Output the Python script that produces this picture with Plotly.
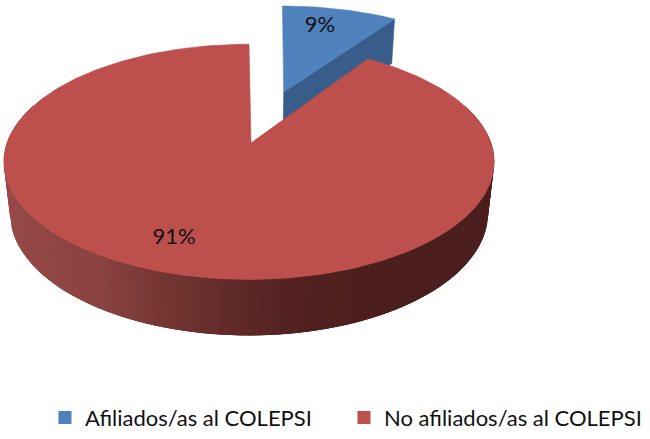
# -*- coding: utf-8 -*-
import numpy as np
import plotly.graph_objects as go

categories = ["Afiliados/as al COLEPSI", "No afiliados/as al COLEPSI"]
values = [9.4, 90.6]
explode = [0.5, 0.0]
top_colors = ["#4f81bd", "#bd4f4c"]
wall_colors = ["#385d8a", "#8a3a37"]

# plotly has no 3D pie, so project the slices by hand (pixel scale on the axes)
CX, CY = 251, 146
A, B = 242, 117       # radius on screen
P = 0.16              # perspective of the disc
Q = 0.025             # bottom plane sits a little further away
D = 53                # thickness


def project(u, v, low=False, dx=0):
    w = 1 + P * v + (Q if low else 0)
    y = -B * v + (D if low else 0)
    return CX + dx + A * u / w, CY + y / w


def blend(x):
    # shading of the red rim, from left to right
    xs = [10, 100, 170, 240, 300, 400, 490]
    r = [151, 138, 116, 95, 82, 74, 76]
    g = [74, 67, 54, 42, 33, 31, 31]
    b = [71, 64, 51, 40, 32, 29, 30]
    return "rgb(%d,%d,%d)" % (np.interp(x, xs, r), np.interp(x, xs, g), np.interp(x, xs, b))


angles = np.cumsum([0] + values) / sum(values) * 2 * np.pi
fig = go.Figure()


def poly(xs, ys, color, width=0.6):
    fig.add_trace(go.Scatter(x=xs, y=ys, mode="lines", fill="toself", fillcolor=color,
                             line=dict(color=color, width=width), hoverinfo="skip", showlegend=False))


# blue slice, pulled out along its middle angle
mid = (angles[0] + angles[1]) / 2
u0, v0 = explode[0] * np.sin(mid), explode[0] * np.cos(mid)
t = np.linspace(angles[0], angles[1], 40)
u1, v1 = u0 + np.sin(angles[1]), v0 + np.cos(angles[1])
a = project(u0, v0)
b = project(u1, v1, dx=3)
c = project(u1, v1, True, dx=3)
d = project(u0, v0, True)
poly([a[0], b[0], c[0], d[0], a[0]], [a[1], b[1], c[1], d[1], a[1]], wall_colors[0])
px, py = project(u0 + np.sin(t), v0 + np.cos(t), dx=3)
poly(np.r_[a[0], px, a[0]], np.r_[a[1], py, a[1]], top_colors[0])

# red rim, overlapping strips so no seams show
edges = np.radians(np.linspace(70, 290, 111))
for i in range(len(edges) - 1):
    seg = edges[i:i + 4]
    tx, ty = project(np.sin(seg), np.cos(seg), dx=-2)
    bx, by = project(np.sin(seg), np.cos(seg), True, dx=-2)
    poly(np.r_[tx, bx[::-1], tx[0]], np.r_[ty, by[::-1], ty[0]], blend(tx[0]), width=0)

# red top
t = np.linspace(angles[1], angles[2], 240)
px, py = project(np.sin(t), np.cos(t), dx=-2)
poly(np.r_[CX, px, CX], np.r_[CY, py, CY], top_colors[1])

# percent labels
fig.add_trace(go.Scatter(x=[320, 174], y=[27, 243], mode="text",
                         text=["%d%%" % round(val) for val in values],
                         textposition="middle center", hoverinfo="skip", showlegend=False,
                         textfont=dict(family="Lato", size=22, color="#111111")))

# legend entries only
for name, color in zip(categories, top_colors):
    fig.add_trace(go.Scatter(x=[None], y=[None], mode="markers", name=name,
                             marker=dict(symbol="square", size=13, color=color)))

fig.update_xaxes(range=[0, 650], visible=False)
fig.update_yaxes(range=[439, 0], visible=False)
fig.update_layout(width=650, height=439, margin=dict(l=0, r=0, t=0, b=0),
                  plot_bgcolor="white", paper_bgcolor="white",
                  legend=dict(orientation="h", x=0.0692, y=-0.02, xanchor="left", yanchor="bottom",
                              entrywidth=254, entrywidthmode="pixels",
                              font=dict(family="Lato", size=22, color="#111111")))
# the page's default body margin would push the figure off by 8 px
fig.write_html("out.html", config=dict(displayModeBar=False),
               post_script="document.body.style.margin='0';")
